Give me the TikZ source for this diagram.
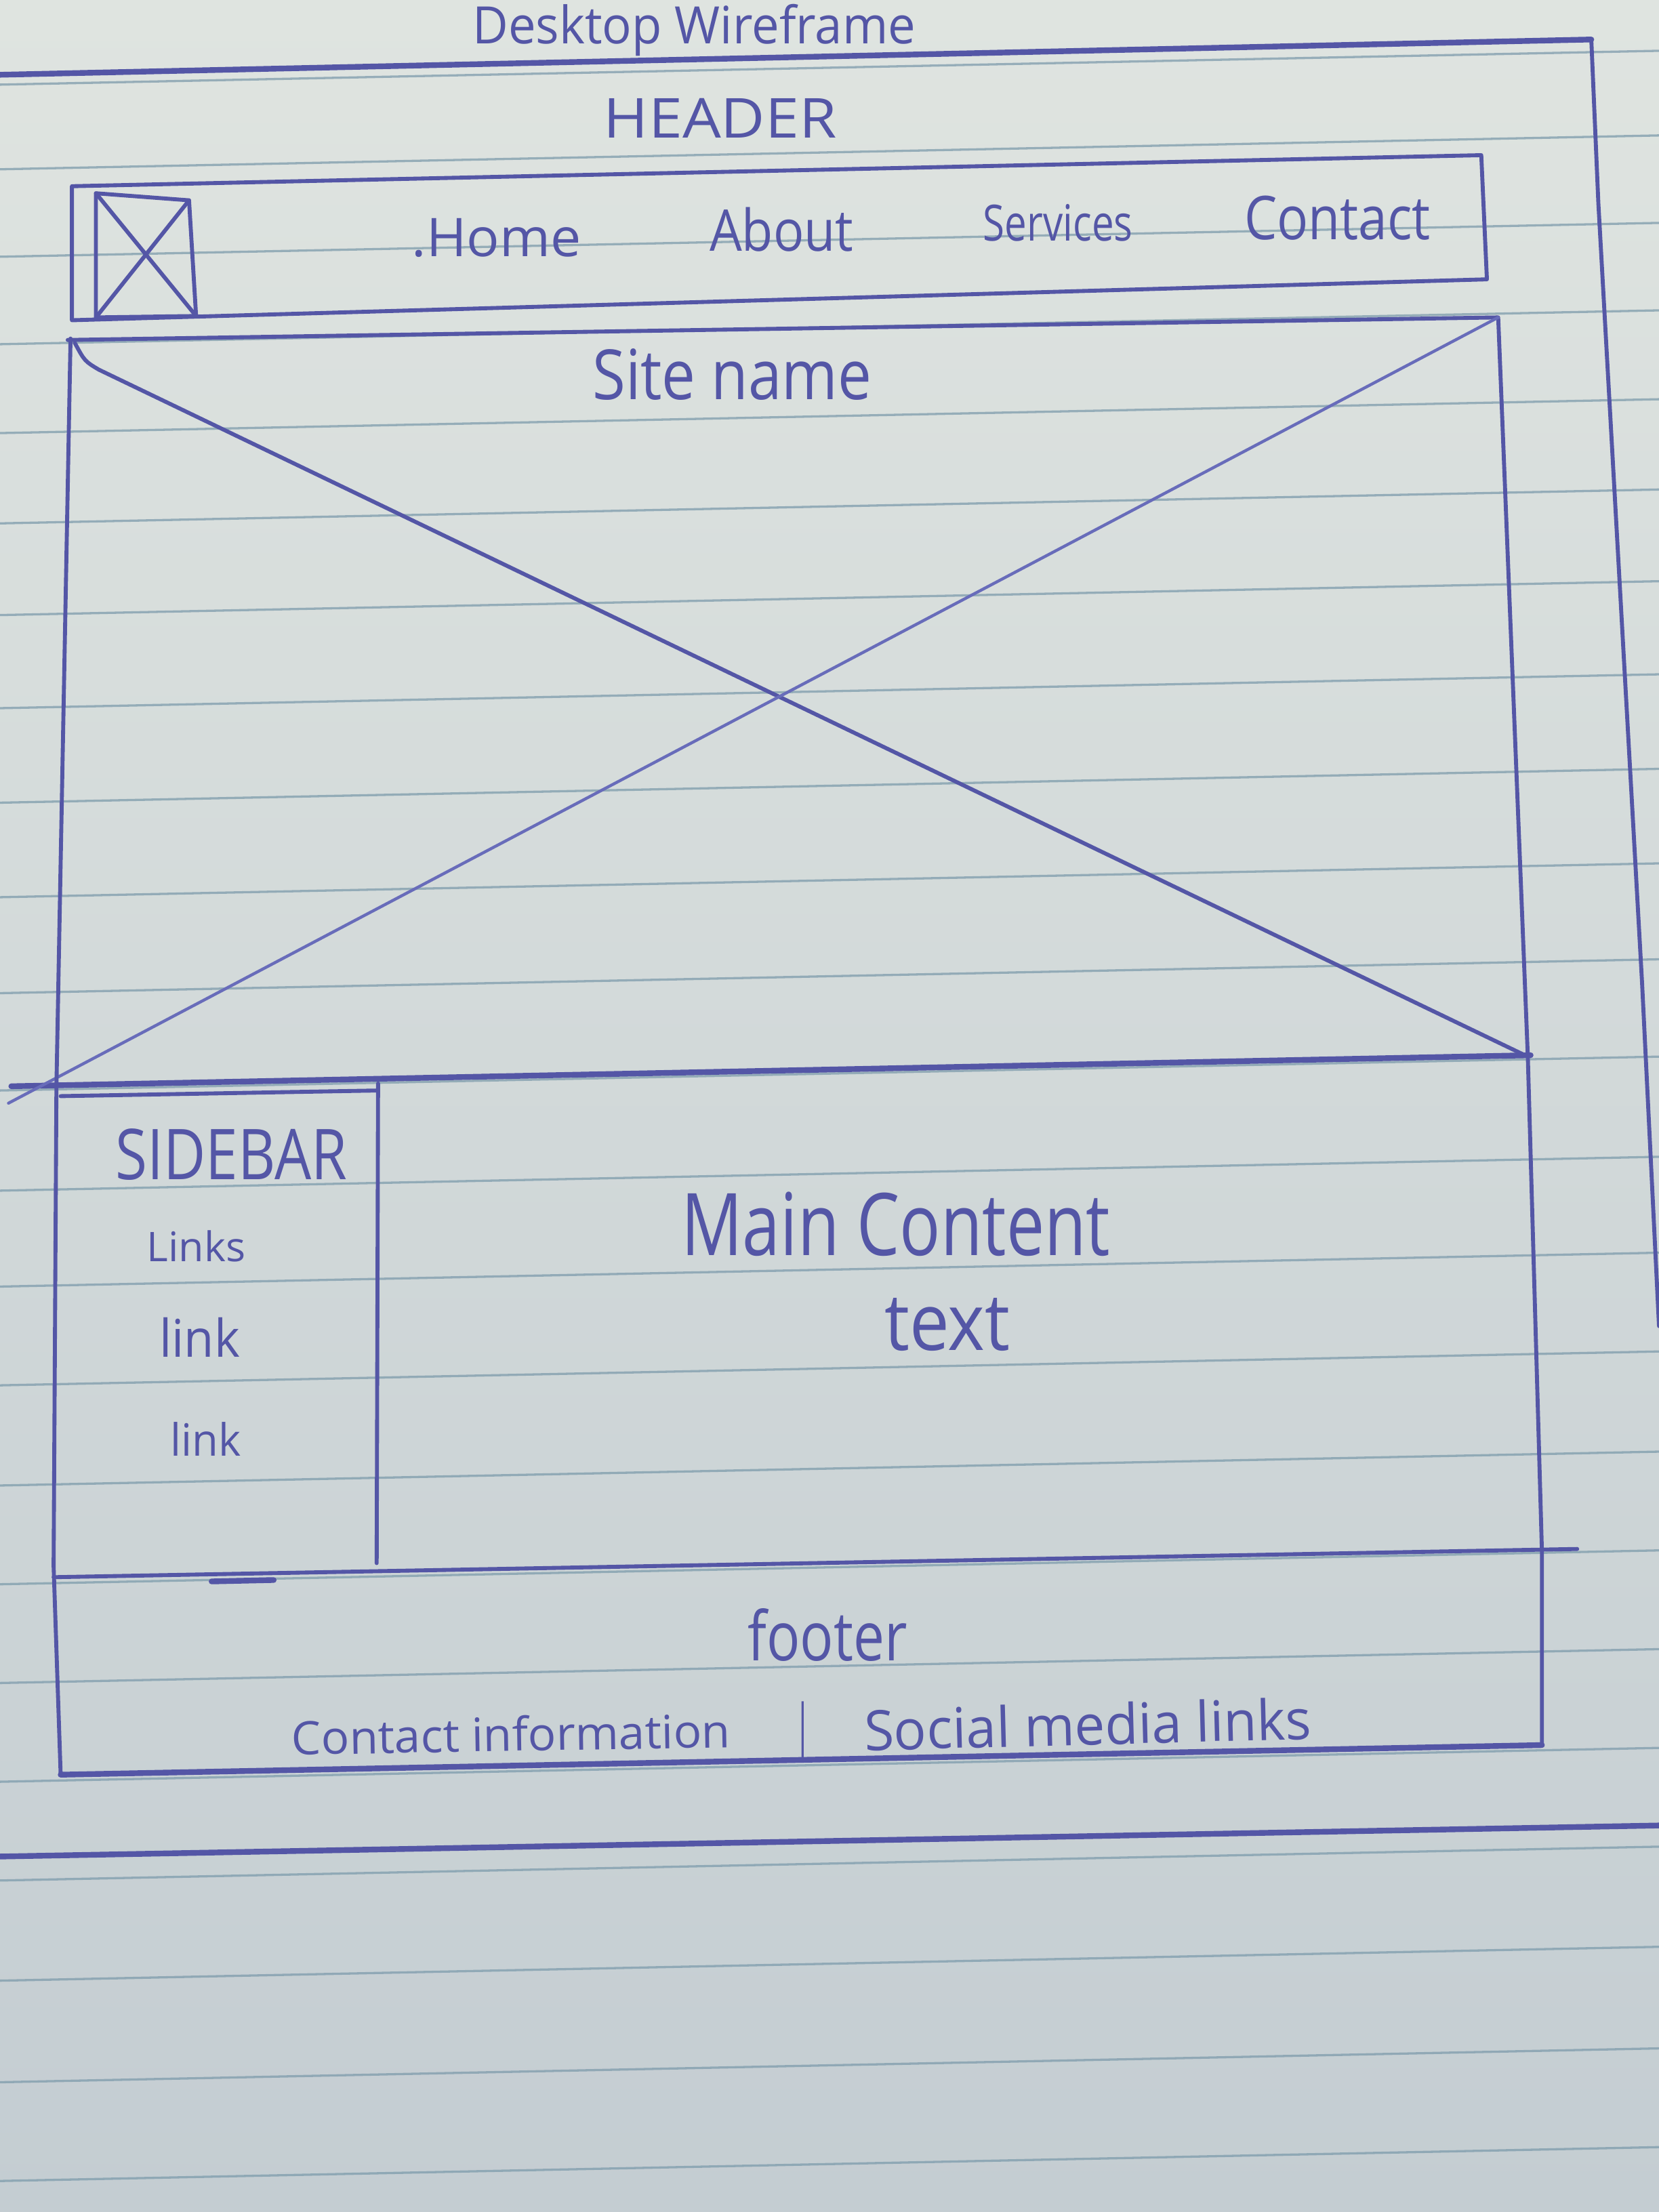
\documentclass[tikz,border=0pt]{standalone}
\usepackage{fontspec}
\setmainfont{Open Sans}
\usepackage{graphicx}
% one drawing unit = 0.02cm
\newlength\pxu
\setlength\pxu{0.02cm}
% hand-lettered label of given width and height (in drawing units)
\newcommand\hand[3]{\resizebox{#1\pxu}{#2\pxu}{#3}}
\definecolor{ink}{RGB}{84,86,166}
\definecolor{inklight}{RGB}{104,108,186}
\definecolor{rule}{RGB}{126,156,172}
\definecolor{papertop}{RGB}{223,228,224}
\definecolor{paperbot}{RGB}{196,205,210}

\begin{document}
\begin{tikzpicture}[x=0.02cm,y=-0.02cm,
  pen/.style={draw=ink,line width=1.6pt,line cap=round,line join=round},
  thinpen/.style={draw=inklight,line width=1.2pt,line cap=round},
  heavypen/.style={draw=ink,line width=2.3pt,line cap=round},
  ruling/.style={draw=rule,line width=0.9pt,opacity=0.75},
  hw/.style={text=ink,inner sep=0pt,outer sep=0pt,anchor=base west}]

\useasboundingbox (0,0) rectangle (1176,1568);

% ruled notebook paper
\shade[top color=papertop,bottom color=paperbot] (0,0) rectangle (1176,1568);
\foreach \r in {36,96,158,220,283,347,412,478,545,612,680,749,820,888,958,1029,1099,1169,1239,1309,1380,1452,1522}
  \draw[ruling] (0,{\r+24}) -- (1176,\r);

% page frame
\coordinate (oTL) at (0,53);
\coordinate (oTR) at (1128,28);
\coordinate (oR1) at (1133,144);
\coordinate (oR2) at (1164,697);
\coordinate (oRB) at (1176,940);
\coordinate (oBL) at (0,1316);
\coordinate (oBR) at (1176,1294);
\draw[heavypen] (oTL) -- (oTR);
\draw[pen] (oTR) -- (oR1) -- (oR2) -- (oRB);
\draw[heavypen] (oBL) -- (oBR);

% header bar
\coordinate (hTL) at (51,132);
\coordinate (hTR) at (1050,110);
\coordinate (hBR) at (1054,198);
\coordinate (hBL) at (51,227);
\draw[pen] (hBL) -- (hTL) -- (hTR) -- (hBR) -- cycle;

% logo placeholder
\coordinate (lTL) at (68,137);
\coordinate (lTR) at (134,142);
\coordinate (lBR) at (139,224);
\coordinate (lBL) at (68,225);
\draw[pen] (lTL) -- (lTR) -- (lBR) -- (lBL) -- cycle;
\draw[pen] (lTL) -- (lBR);
\draw[pen] (lTR) -- (lBL);

% hero image
\coordinate (eTL) at (48,241);
\coordinate (eTR) at (1062,225);
\coordinate (eBR) at (1083,749);
\coordinate (eBL) at (8,770);
\coordinate (eBE) at (1085,748);
\draw[pen] (eTL) -- (eTR) -- (eBR);
\draw[heavypen] (eBL) -- (eBE);
\draw[pen] (53,243) .. controls (60,256) .. (70,262) -- (eBR);
\draw[thinpen] (6,782) -- (eTR);

% left edge, hero down to footer
\coordinate (sL1) at (50,240);
\coordinate (sL2) at (40,770);
\coordinate (sL3) at (38,1110);
\coordinate (fBL) at (43,1258);
\draw[pen] (sL1) -- (sL2) -- (sL3) -- (fBL);

% right edge of content and footer
\coordinate (mR1) at (1093,1100);
\coordinate (fBR) at (1093,1237);
\draw[pen] (eBR) -- (mR1) -- (fBR);

% sidebar
\coordinate (sbTL) at (43,777);
\coordinate (sbTR) at (268,773);
\coordinate (sbB) at (267,1108);
\draw[pen] (sbTL) -- (sbTR);
\draw[pen] (268,768) -- (sbB);

% footer
\coordinate (fTL) at (38,1118);
\coordinate (fTR) at (1118,1098);
\draw[pen] (fTL) -- (fTR);
\draw[heavypen] (150,1121) -- (194,1120);
\draw[heavypen] (fBL) -- (fBR);

% lettering
\node[hw] (title) at (335,31) {\hand{314}{28}{Desktop Wireframe}};
\node[hw] (hdr) at (428,98) {\hand{165}{28}{HEADER}};
\node[hw] (nhome) at (292,182) {\hand{120}{27}{.Home}};
\node[hw] (nabout) at (503,178) {\hand{102}{31}{About}};
\node[hw] (nserv) at (697,171) {\hand{106}{26}{Services}};
\node[hw] (ncont) at (882,170) {\hand{132}{31}{Contact}};
\node[hw] (site) at (420,283) {\hand{198}{36}{Site name}};
\node[hw] (sbt) at (82,836) {\hand{164}{36}{SIDEBAR}};
\node[hw] (lk1) at (104,894) {\hand{70}{22}{Links}};
\node[hw] (lk2) at (113,962) {\hand{57}{28}{link}};
\node[hw] (lk3) at (121,1032) {\hand{50}{24}{link}};
\node[hw] (mc) at (483,890) {\hand{304}{45}{Main Content}};
\node[hw] (mt) at (627,957) {\hand{89}{37}{text}};
\node[hw] (ft) at (530,1177) {\hand{113}{37}{footer}};
\node[hw,rotate=1] (fc) at (207,1244) {\hand{311}{25}{Contact information}};
\node[hw] (fsep) at (565,1238) {\hand{8}{32}{\textbf{|}}};
\node[hw,rotate=1.5] (fs) at (613,1241) {\hand{317}{30}{Social media links}};
\end{tikzpicture}
\end{document}
